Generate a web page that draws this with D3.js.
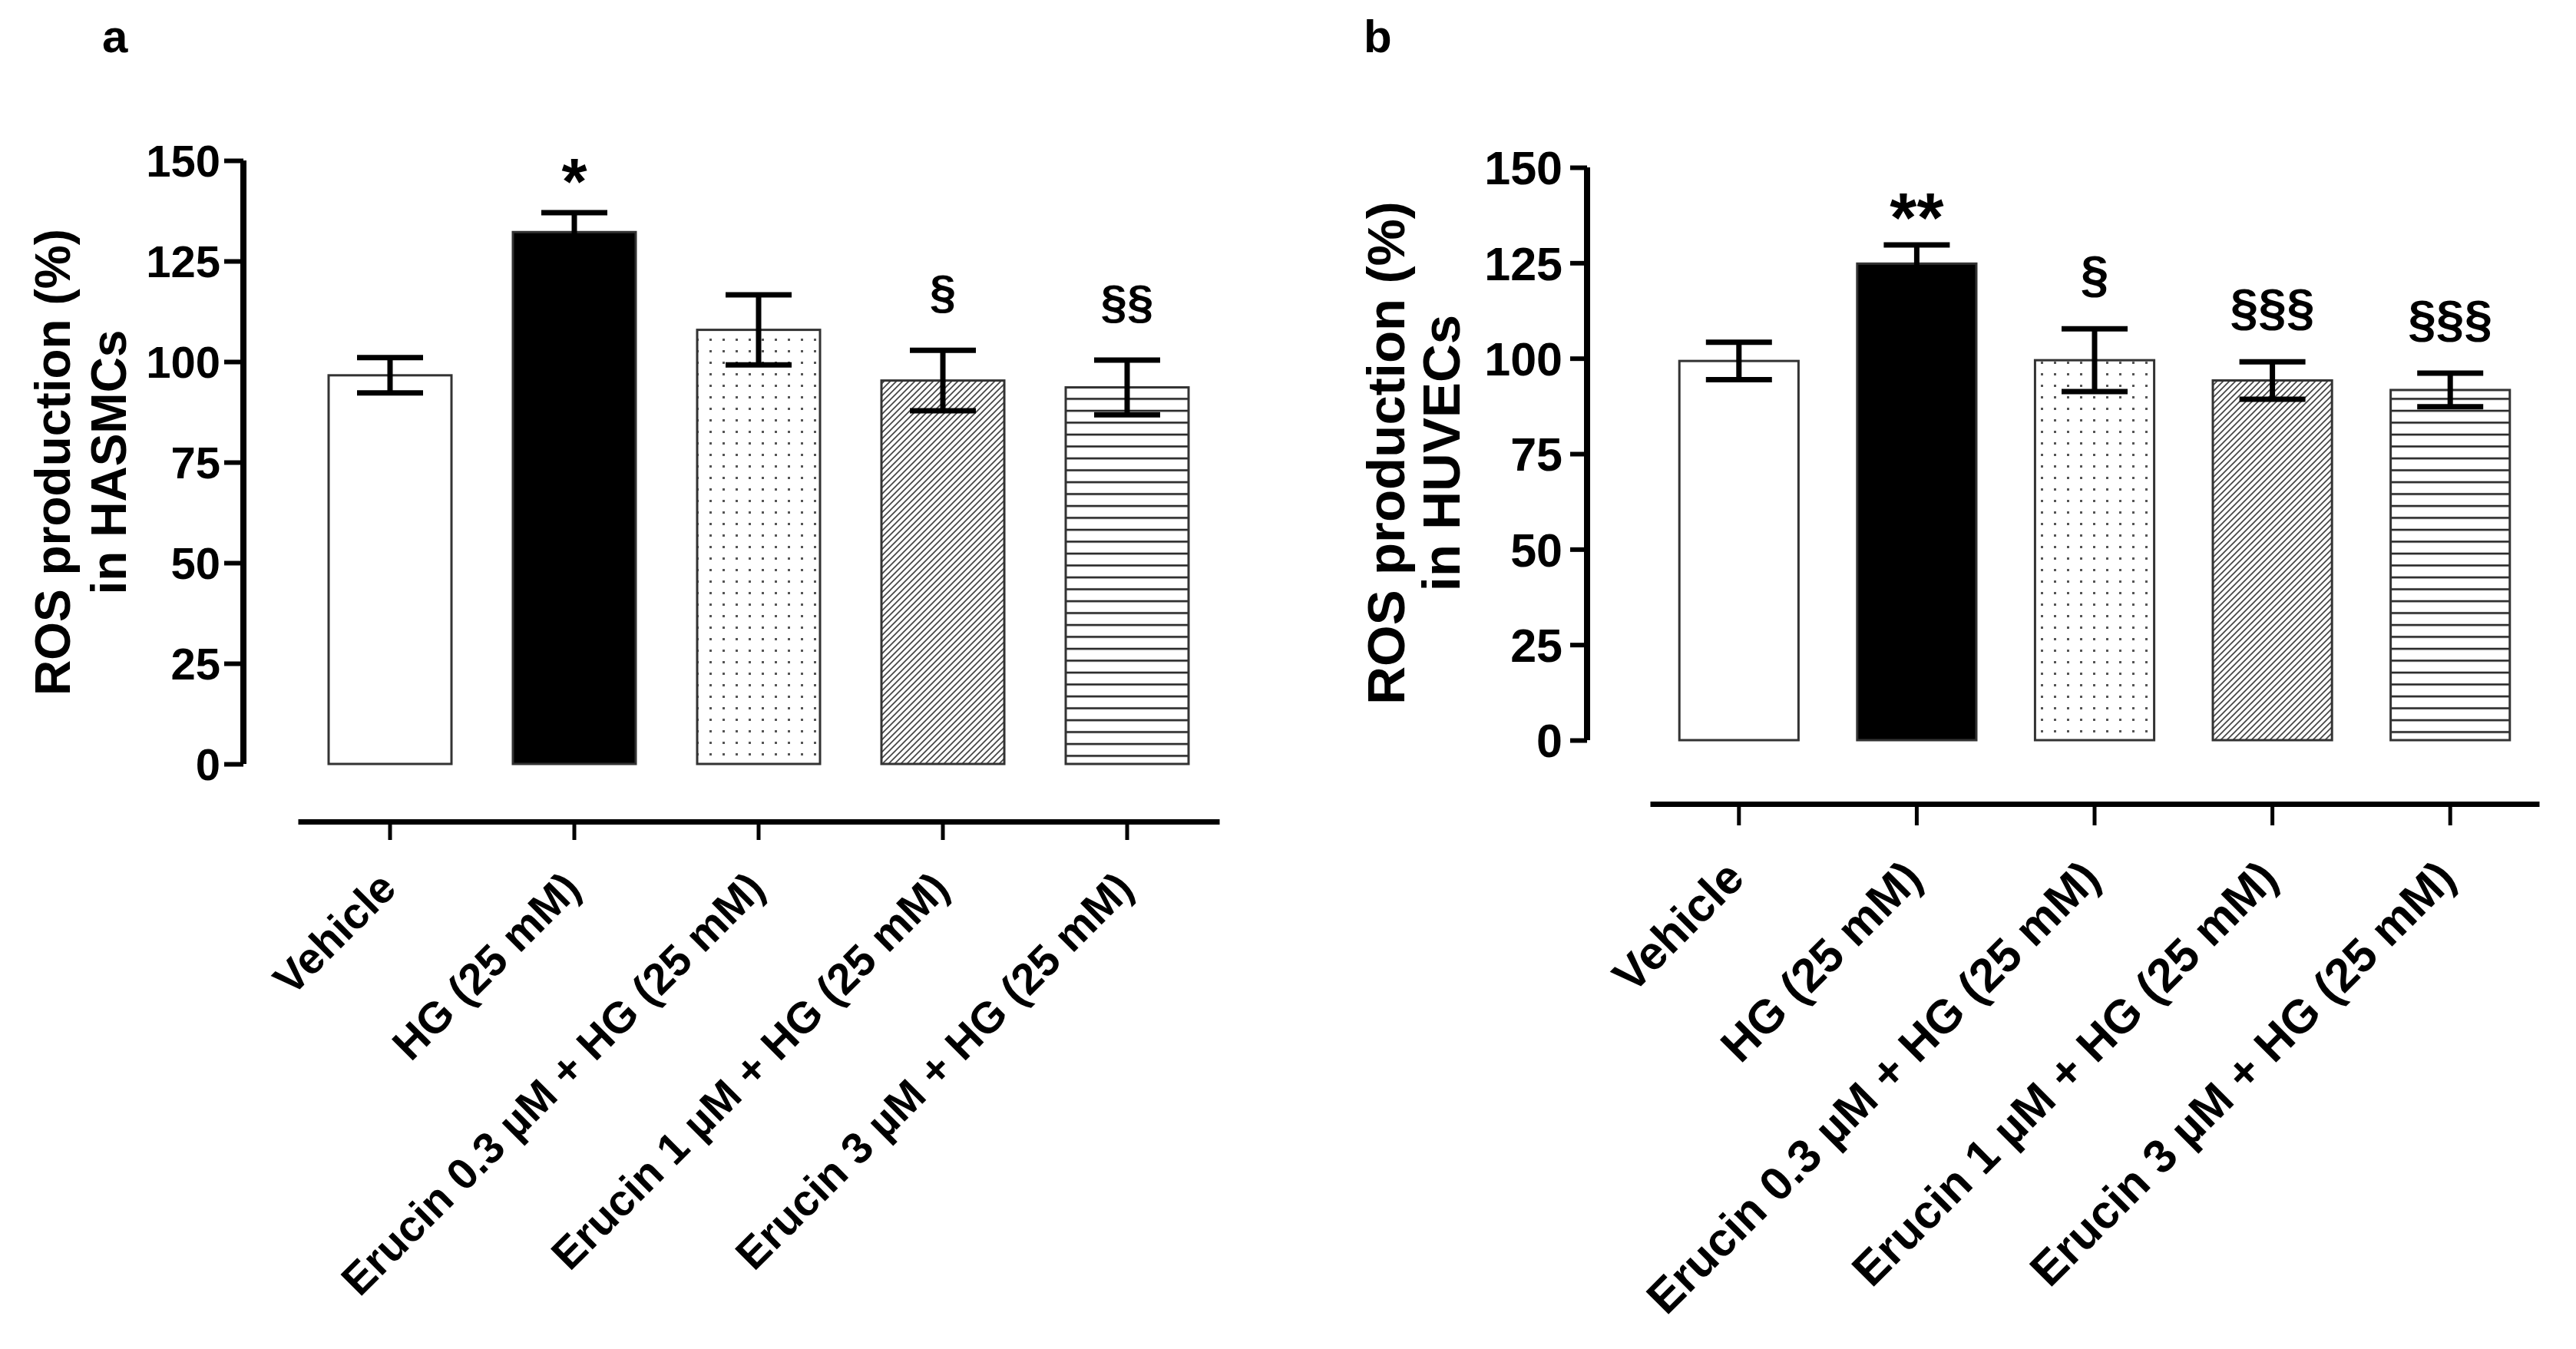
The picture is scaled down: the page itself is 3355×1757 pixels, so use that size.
<!DOCTYPE html>
<html>
<head>
<meta charset="utf-8">
<script src="https://cdn.jsdelivr.net/npm/d3@7"></script>
<style>
  body { margin: 0; background: #fff; }
  text { font-family: "Liberation Sans", Arial, sans-serif; font-weight: bold; fill: #000; }
</style>
</head>
<body>
<div id="chart"></div>
<script>
var categories = ["Vehicle", "HG (25 mM)", "Erucin 0.3 \u00B5M + HG (25 mM)",
                  "Erucin 1 \u00B5M + HG (25 mM)", "Erucin 3 \u00B5M + HG (25 mM)"];
var yTicks = [0, 25, 50, 75, 100, 125, 150];

// panel a - HASMCs
var hasmcMean = [96.6, 132.2, 107.9, 95.3, 93.6];
var hasmcSem  = [4.4, 4.8, 8.7, 7.5, 6.8];
var hasmcMarks = ["", "*", "", "\u00A7", "\u00A7\u00A7"];

// panel b - HUVECs
var huvecMean = [99.3, 124.8, 99.5, 94.2, 91.7];
var huvecSem  = [4.9, 4.9, 8.2, 4.9, 4.4];
var huvecMarks = ["", "**", "\u00A7", "\u00A7\u00A7\u00A7", "\u00A7\u00A7\u00A7"];

var fills = ["#fff", "#000", "url(#dots)", "url(#diag)", "url(#horiz)"];

var W = 3355, H = 1757;
var svg = d3.select("#chart").append("svg")
    .attr("width", W)
    .attr("height", H);

svg.append("rect").attr("width", W).attr("height", H).attr("fill", "#fff");

var defs = svg.append("defs");

var dots = defs.append("pattern").attr("id", "dots")
    .attr("patternUnits", "userSpaceOnUse").attr("width", 17).attr("height", 15);
dots.append("rect").attr("width", 17).attr("height", 15).attr("fill", "#fff");
dots.append("rect").attr("x", 6).attr("y", 6).attr("width", 3).attr("height", 3).attr("fill", "#555");

var diag = defs.append("pattern").attr("id", "diag")
    .attr("patternUnits", "userSpaceOnUse").attr("width", 8).attr("height", 8);
diag.append("rect").attr("width", 8).attr("height", 8).attr("fill", "#fff");
diag.append("path").attr("d", "M-2,2 L2,-2 M0,8 L8,0 M6,10 L10,6")
    .attr("stroke", "#444").attr("stroke-width", 1.7);

var horiz = defs.append("pattern").attr("id", "horiz")
    .attr("patternUnits", "userSpaceOnUse").attr("width", 10).attr("height", 15.5);
horiz.append("rect").attr("width", 10).attr("height", 15.5).attr("fill", "#fff");
horiz.append("line").attr("x1", 0).attr("x2", 10).attr("y1", 8).attr("y2", 8)
    .attr("stroke", "#222").attr("stroke-width", 2.6);

function drawPanel(p) {
  var g = svg.append("g");

  var x = d3.scaleBand()
      .domain(categories)
      .range([p.x0, p.x1])
      .paddingInner(p.padIn)
      .paddingOuter(p.padIn / 2);

  var y = d3.scaleLinear().domain([0, 150]).range([p.yBottom, p.yTop]);

  // panel letter
  g.append("text")
      .attr("x", p.letterX).attr("y", 68)
      .style("font-size", "60px")
      .text(p.letter);

  // y axis
  var yAxis = g.append("g")
      .attr("transform", "translate(" + p.axisX + ",0)")
      .call(d3.axisLeft(y).tickValues(yTicks).tickSize(p.tick).tickPadding(p.tickPad));
  yAxis.select(".domain").attr("d", "M0," + y(0) + "V" + y(150))
      .attr("stroke", "#000").attr("stroke-width", 8);
  yAxis.selectAll(".tick line").attr("stroke", "#000").attr("stroke-width", 6);
  yAxis.selectAll(".tick text")
      .style("font-size", p.tickFont + "px")
      .attr("dy", "0.36em");

  // y title
  var title = g.append("text")
      .attr("transform", "translate(0," + p.titleY + ") rotate(-90)")
      .attr("text-anchor", "middle")
      .style("font-size", p.titleFont + "px");
  title.append("tspan").attr("x", 0).attr("y", p.titleX1).text("ROS production (%)");
  title.append("tspan").attr("x", 0).attr("y", p.titleX2).text(p.cells);

  // bars
  g.selectAll(".bar")
    .data(p.mean)
    .enter().append("rect")
      .attr("class", "bar")
      .attr("x", function(d, i) { return x(categories[i]); })
      .attr("y", function(d) { return y(d); })
      .attr("width", x.bandwidth())
      .attr("height", function(d) { return y(0) - y(d); })
      .attr("fill", function(d, i) { return fills[i]; })
      .attr("stroke", "#333")
      .attr("stroke-width", 3);

  // error bars
  var cap = 43;
  var err = g.selectAll(".err")
    .data(p.mean)
    .enter().append("g")
      .attr("class", "err")
      .attr("transform", function(d, i) { return "translate(" + (x(categories[i]) + x.bandwidth() / 2) + ",0)"; });
  err.append("line")
      .attr("y1", function(d, i) { return y(d - p.sem[i]); })
      .attr("y2", function(d, i) { return y(d + p.sem[i]); })
      .attr("stroke", "#000").attr("stroke-width", 7);
  err.append("line")
      .attr("x1", -cap).attr("x2", cap)
      .attr("y1", function(d, i) { return y(d + p.sem[i]); })
      .attr("y2", function(d, i) { return y(d + p.sem[i]); })
      .attr("stroke", "#000").attr("stroke-width", 7);
  err.append("line")
      .attr("x1", -cap).attr("x2", cap)
      .attr("y1", function(d, i) { return y(d - p.sem[i]); })
      .attr("y2", function(d, i) { return y(d - p.sem[i]); })
      .attr("stroke", "#000").attr("stroke-width", 7);

  // significance marks
  err.append("text")
      .attr("text-anchor", "middle")
      .attr("y", function(d, i) {
        var star = p.marks[i].indexOf("*") >= 0;
        return y(d + p.sem[i]) - (star ? p.starGap : p.sectGap);
      })
      .style("font-size", function(d, i) { return (p.marks[i].indexOf("*") >= 0 ? p.starFont : p.sectFont) + "px"; })
      .text(function(d, i) { return p.marks[i]; });

  // separate category axis below the plot
  var xAxis = g.append("g")
      .attr("transform", "translate(0," + p.xAxisY + ")")
      .call(d3.axisBottom(x).tickSize(p.xTick).tickSizeOuter(0).tickFormat(""));
  xAxis.select(".domain").attr("stroke", "#000").attr("stroke-width", 7);
  xAxis.selectAll(".tick line").attr("stroke", "#000").attr("stroke-width", 5);

  g.selectAll(".xlab")
    .data(categories)
    .enter().append("text")
      .attr("class", "xlab")
      .attr("text-anchor", "end")
      .attr("transform", function(d) {
        return "translate(" + (x(d) + x.bandwidth() / 2 + p.labDx) + "," + (p.xAxisY + p.labDy) + ") rotate(-45)";
      })
      .style("font-size", p.labFont + "px")
      .text(function(d) { return d; });
}

drawPanel({
  letter: "a", letterX: 133, cells: "in HASMCs",
  mean: hasmcMean, sem: hasmcSem, marks: hasmcMarks,
  x0: 388, x1: 1588, padIn: 1 / 3,
  yTop: 209, yBottom: 995, axisX: 317, tick: 25, tickPad: 5, tickFont: 58,
  titleY: 602, titleX1: 91, titleX2: 164, titleFont: 64,
  starGap: 11, sectGap: 55, starFont: 85, sectFont: 62,
  xAxisY: 1070, xTick: 24, labDx: 11, labDy: 90, labFont: 57
});

drawPanel({
  letter: "b", letterX: 1776, cells: "in HUVECs",
  mean: huvecMean, sem: huvecSem, marks: huvecMarks,
  x0: 2149, x1: 3307, padIn: 0.33,
  yTop: 218, yBottom: 964, axisX: 2067, tick: 22, tickPad: 10, tickFont: 61,
  titleY: 590, titleX1: 1829, titleX2: 1901, titleFont: 69,
  starGap: 4, sectGap: 48, starFont: 90, sectFont: 66,
  xAxisY: 1047, xTick: 28, labDx: 10, labDy: 100, labFont: 61
});
</script>
</body>
</html>
